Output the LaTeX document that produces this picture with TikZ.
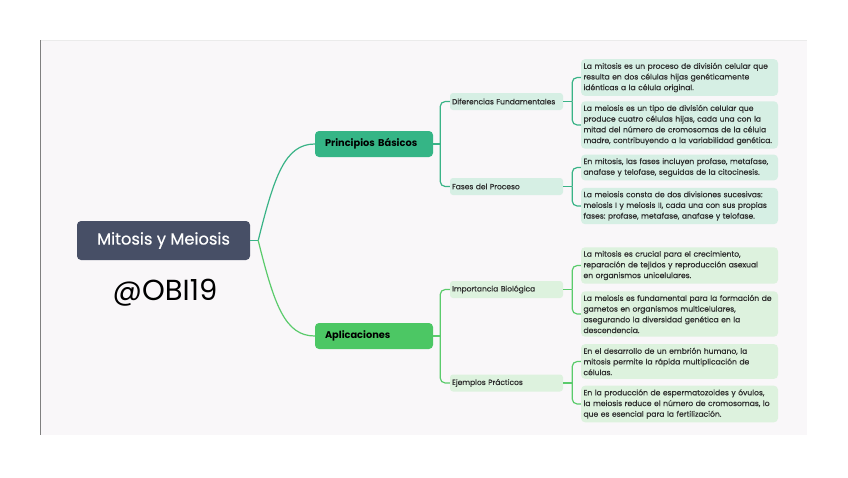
\documentclass[tikz,border=0pt]{standalone}
\usepackage{fontspec}
\setmainfont{Poppins}
\newfontfamily\medfont{Poppins}[FakeBold=0.5]
\usetikzlibrary{positioning}
\definecolor{rootblue}{HTML}{474F66}
\definecolor{tealmain}{HTML}{35B586}
\definecolor{greenmain}{HTML}{4CC764}
\definecolor{tealline}{HTML}{3AB387}
\definecolor{greenline}{HTML}{5BCB6C}
\definecolor{tealsoft}{HTML}{D6EFE4}
\definecolor{greensoft}{HTML}{DDF2DE}
\definecolor{panelbg}{HTML}{F9F7F9}
\definecolor{leaftext}{HTML}{2E2E2E}
\frenchspacing
\tikzset{
    root/.style={
    rectangle,rounded corners=4pt,fill=rootblue,text=white,minimum width=173pt,minimum height=39pt,font=\medfont\fontsize{16.3}{18}\selectfont
    },
    topic/.style={
    rectangle,rounded corners=4pt,minimum height=26pt,text width=98pt,inner xsep=10pt,align=left,font=\bfseries\fontsize{9.8}{11}\selectfont
    },
    subtopic/.style={
    rectangle,rounded corners=3pt,minimum height=17pt,text width=109pt,inner xsep=2pt,inner ysep=2pt,align=left,text=leaftext,font=\medfont\fontsize{7.5}{9}\selectfont
    },
    leaf/.style={
    rectangle,rounded corners=4pt,text width=192pt,inner xsep=2.5pt,inner ysep=3.6pt,align=left,text=leaftext,font=\medfont\fontsize{7.6}{10.7}\selectfont
    },
    link/.style={
    line width=1.2pt,rounded corners=5pt
    },
    elbow/.style={
    to path={|- (\tikztotarget)}
    },
}
\begin{document}
\begin{tikzpicture}[x=1pt,y=-1pt]
   \useasboundingbox (0,0) rectangle (848,477);
   \fill[panelbg] (40,40) rectangle (807,435);
   \draw[black!8] (40,40.5) -- (807,40.5);
   \draw[black!50,line width=1.5pt] (40.5,40) -- (40.5,435);

   \node[root] (MM) at (163.5,240.5) {Mitosis y Meiosis};
   \node[font=\fontsize{29}{31}\selectfont] (OB) at (165,293) {@OBI19};

   \node[topic,fill=tealmain] (PB) at (374,144) {Principios Básicos};
   \node[topic,fill=greenmain] (AP) at (374,336) {Aplicaciones};

   \node[subtopic,fill=tealsoft] (DF) at (506.5,101.5) {Diferencias Fundamentales};
   \node[subtopic,fill=tealsoft] (FP) at (506.5,186.5) {Fases del Proceso};
   \node[subtopic,fill=greensoft] (IB) at (506.5,289.5) {Importancia Biológica};
   \node[subtopic,fill=greensoft] (EP) at (506.5,383) {Ejemplos Prácticos};

   \node[leaf,fill=tealsoft] (DF1) at (679.5,77.5) {La mitosis es un proceso de división celular que\\resulta en dos células hijas genéticamente\\idénticas a la célula original.};
   \node[leaf,fill=tealsoft] (DF2) at (679.5,125) {La meiosis es un tipo de división celular que\\produce cuatro células hijas, cada una con la\\mitad del número de cromosomas de la célula\\madre, contribuyendo a la variabilidad genética.};
   \node[leaf,fill=tealsoft] (FP1) at (679.5,167.5) {En mitosis, las fases incluyen profase, metafase,\\anafase y telofase, seguidas de la citocinesis.};
   \node[leaf,fill=tealsoft] (FP2) at (679.5,206) {La meiosis consta de dos divisiones sucesivas:\\meiosis I y meiosis II, cada una con sus propias\\fases: profase, metafase, anafase y telofase.};
   \node[leaf,fill=greensoft] (IB1) at (679.5,265.5) {La mitosis es crucial para el crecimiento,\\reparación de tejidos y reproducción asexual\\en organismos unicelulares.};
   \node[leaf,fill=greensoft] (IB2) at (679.5,314) {La meiosis es fundamental para la formación de\\gametos en organismos multicelulares,\\asegurando la diversidad genética en la\\descendencia.};
   \node[leaf,fill=greensoft] (EP1) at (679.5,361.5) {En el desarrollo de un embrión humano, la\\mitosis permite la rápida multiplicación de\\células.};
   \node[leaf,fill=greensoft] (EP2) at (679.5,404) {En la producción de espermatozoides y óvulos,\\la meiosis reduce el número de cromosomas, lo\\que es esencial para la fertilización.};

   \coordinate (jMM) at ([xshift=8pt]MM.east);
   \coordinate (jPB) at ([xshift=7pt]PB.east);
   \coordinate (jAP) at ([xshift=7pt]AP.east);
   \coordinate (jDF) at ([xshift=9pt]DF.east);
   \coordinate (jFP) at ([xshift=9pt]FP.east);
   \coordinate (jIB) at ([xshift=9pt]IB.east);
   \coordinate (jEP) at ([xshift=9pt]EP.east);

   \draw[link,tealline] (MM.east) -- (jMM);
   \draw[link,tealline] (jMM) .. controls +(16,-64) and +(-30,0) .. (PB.west);
   \draw[link,greenline] (jMM) .. controls +(16,64) and +(-30,0) .. (AP.west);

   \path[link,tealline]
    (PB) edge (jPB)
    (jPB) edge[elbow] (DF)
          edge[elbow] (FP)
    (DF) edge (jDF)
    (jDF) edge[elbow] (DF1)
          edge[elbow] (DF2)
    (FP) edge (jFP)
    (jFP) edge[elbow] (FP1)
          edge[elbow] (FP2);
   \path[link,greenline]
    (AP) edge (jAP)
    (jAP) edge[elbow] (IB)
          edge[elbow] (EP)
    (IB) edge (jIB)
    (jIB) edge[elbow] (IB1)
          edge[elbow] (IB2)
    (EP) edge (jEP)
    (jEP) edge[elbow] (EP1)
          edge[elbow] (EP2);
\end{tikzpicture}
\end{document}
